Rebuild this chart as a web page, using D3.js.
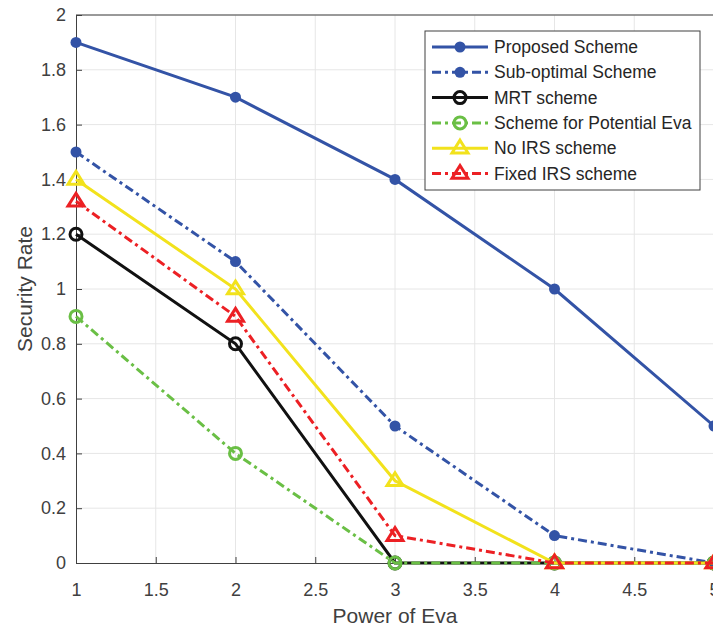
<!DOCTYPE html>
<html>
<head>
<meta charset="utf-8">
<script src="https://cdn.jsdelivr.net/npm/d3@7"></script>
<style>
  body { margin: 0; background: #fff; }
  text { font-family: "Liberation Sans", Arial, sans-serif; }
</style>
</head>
<body>
<svg id="chart" width="713" height="631"></svg>
<script>
const powers = [1, 2, 3, 4, 5];
const proposed = [1.9, 1.7, 1.4, 1.0, 0.5];
const subOptimal = [1.5, 1.1, 0.5, 0.1, 0];
const mrt = [1.2, 0.8, 0, 0, 0];
const potentialEva = [0.9, 0.4, 0, 0, 0];
const noIrs = [1.4, 1.0, 0.3, 0, 0];
const fixedIrs = [1.32, 0.9, 0.1, 0, 0];
const xTicks = [1, 1.5, 2, 2.5, 3, 3.5, 4, 4.5, 5];
const yTicks = [0, 0.2, 0.4, 0.6, 0.8, 1, 1.2, 1.4, 1.6, 1.8, 2];

const series = [
  { name: 'Proposed Scheme', values: proposed, color: '#3353a6', dash: null, marker: 'dot' },
  { name: 'Sub-optimal Scheme', values: subOptimal, color: '#3353a6', dash: '9,4,3,4', marker: 'dot' },
  { name: 'MRT scheme', values: mrt, color: '#111111', dash: null, marker: 'circle' },
  { name: 'Scheme for Potential Eva', values: potentialEva, color: '#6abf45', dash: '9,4,3,4', marker: 'circle' },
  { name: 'No IRS scheme', values: noIrs, color: '#f2e21c', dash: null, marker: 'tri' },
  { name: 'Fixed IRS scheme', values: fixedIrs, color: '#ec2024', dash: '9,4,3,4', marker: 'tri' }
];

const svg = d3.select('#chart');
const width = 713;
const textColor = '#404040';

const x = d3.scaleLinear().domain([1, 5]).range([76, 714]);
const y = d3.scaleLinear().domain([0, 2]).range([563, 15]);

// grid
svg.append('g').selectAll('line').data(xTicks.slice(1)).join('line')
  .attr('x1', d => x(d)).attr('x2', d => x(d))
  .attr('y1', y(0)).attr('y2', y(2))
  .attr('stroke', '#e6e6e6').attr('stroke-width', 1);
svg.append('g').selectAll('line').data(yTicks.slice(1)).join('line')
  .attr('x1', x(1)).attr('x2', width)
  .attr('y1', d => y(d)).attr('y2', d => y(d))
  .attr('stroke', '#e6e6e6').attr('stroke-width', 1);

// axes
const xAxis = svg.append('g')
  .attr('transform', `translate(0,${y(0)})`)
  .call(d3.axisBottom(x).tickValues(xTicks).tickFormat(d3.format('')).tickSizeInner(-6).tickSizeOuter(0).tickPadding(20));
const yAxis = svg.append('g')
  .attr('transform', `translate(${x(1)},0)`)
  .call(d3.axisLeft(y).tickValues(yTicks).tickFormat(d3.format('')).tickSizeInner(-6).tickSizeOuter(0).tickPadding(10));
[xAxis, yAxis].forEach(g => {
  g.select('.domain').attr('stroke', '#404040').attr('stroke-width', 1);
  g.selectAll('.tick line').attr('stroke', '#404040');
  g.selectAll('.tick text').attr('fill', textColor).style('font-size', '18px');
});
// top border
svg.append('line').attr('x1', x(1)).attr('x2', width).attr('y1', y(2)).attr('y2', y(2))
  .attr('stroke', '#404040').attr('stroke-width', 1);

svg.append('text')
  .attr('x', 395).attr('y', 623)
  .attr('text-anchor', 'middle').attr('fill', textColor)
  .style('font-size', '21px').text('Power of Eva');
svg.append('text')
  .attr('transform', `translate(32,289) rotate(-90)`)
  .attr('text-anchor', 'middle').attr('fill', textColor)
  .style('font-size', '21px').text('Security Rate');

const line = d3.line().x((d, i) => x(powers[i])).y(d => y(d));

function drawMarker(g, s, cx, cy) {
  if (s.marker === 'dot') {
    g.append('circle').attr('cx', cx).attr('cy', cy).attr('r', 5.5).attr('fill', s.color);
  } else if (s.marker === 'circle') {
    g.append('circle').attr('cx', cx).attr('cy', cy).attr('r', 6).attr('fill', 'none')
      .attr('stroke', s.color).attr('stroke-width', 3);
  } else {
    const r = 8;
    g.append('path')
      .attr('d', `M${cx},${cy - r}L${cx + r},${cy + r * 0.6}L${cx - r},${cy + r * 0.6}Z`)
      .attr('fill', 'none').attr('stroke', s.color).attr('stroke-width', 3);
  }
}

const plot = svg.append('g');
series.forEach(s => {
  plot.append('path').datum(s.values)
    .attr('d', line).attr('fill', 'none')
    .attr('stroke', s.color).attr('stroke-width', 3)
    .attr('stroke-dasharray', s.dash);
  const mg = plot.append('g');
  s.values.forEach((v, i) => drawMarker(mg, s, x(powers[i]), y(v)));
});

// legend
const lg = svg.append('g').attr('transform', 'translate(425,31)');
lg.append('rect').attr('width', 275).attr('height', 159)
  .attr('fill', '#fff').attr('stroke', '#404040').attr('stroke-width', 1);
series.forEach((s, i) => {
  const cy = 16 + i * 25.3;
  lg.append('line').attr('x1', 7).attr('x2', 63).attr('y1', cy).attr('y2', cy)
    .attr('stroke', s.color).attr('stroke-width', 3).attr('stroke-dasharray', s.dash);
  drawMarker(lg, s, 35, cy);
  lg.append('text').attr('x', 69).attr('y', cy + 6)
    .attr('fill', '#262626').style('font-size', '17.5px').text(s.name);
});
</script>
</body>
</html>
